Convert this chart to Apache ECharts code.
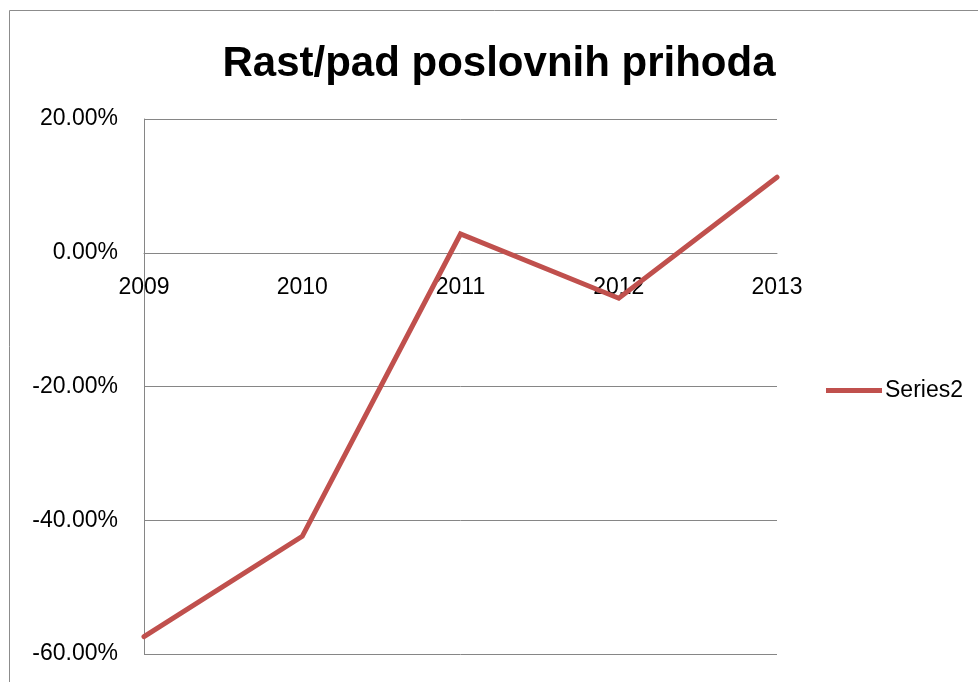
<!DOCTYPE html>
<html>
<head>
<meta charset="utf-8">
<script src="https://cdn.jsdelivr.net/npm/echarts@6/dist/echarts.min.js"></script>
<style>
html,body{margin:0;padding:0;background:#fff;}
#chart{width:978px;height:682px;}
</style>
</head>
<body>
<div id="chart"></div>
<script>
var titleText = 'Rast/pad poslovnih prihoda';
var categories = ['2009', '2010', '2011', '2012', '2013'];
var seriesName = 'Series2';
var seriesValues = [-57.4, -42.4, 2.8, -6.8, 11.3];
var yTicks = [-60, -40, -20, 0, 20];

var GRID_TOP = 119, GRID_BOTTOM = 28, H = 682;
var plotH = H - GRID_TOP - GRID_BOTTOM;
var yMin = yTicks[0], yMax = yTicks[yTicks.length - 1];
// move category axis up to the zero line
var zeroOffset = -plotH * (0 - yMin) / (yMax - yMin);

var chart = echarts.init(document.getElementById('chart'), null, {renderer: 'canvas'});
var FONT = '"Liberation Sans", Arial, sans-serif';
chart.setOption({
  animation: false,
  backgroundColor: '#ffffff',
  graphic: [{
    type: 'rect',
    shape: {x: 9.5, y: 10.5, width: 1000, height: 700},
    style: {fill: 'none', stroke: '#8c8c8c', lineWidth: 1},
    silent: true
  }],
  title: {
    text: titleText,
    left: 494,
    textAlign: 'center',
    top: 38,
    textStyle: {fontFamily: FONT, fontSize: 42, fontWeight: 'bold', color: '#000'}
  },
  legend: {
    data: [seriesName],
    left: 821,
    top: 374,
    itemWidth: 56,
    itemHeight: 5,
    itemGap: 0,
    icon: 'rect',
    textStyle: {fontFamily: FONT, fontSize: 23, color: '#000', padding: [0, 0, 0, -2]}
  },
  grid: {left: 144, right: 201, top: GRID_TOP, bottom: GRID_BOTTOM, containLabel: false, outerBoundsMode: 'none'},
  xAxis: {
    type: 'category',
    data: categories,
    boundaryGap: false,
    position: 'bottom',
    offset: zeroOffset,
    axisLine: {onZero: false, lineStyle: {color: '#868686', width: 1}},
    axisTick: {show: false},
    axisLabel: {fontFamily: FONT, fontSize: 23, color: '#000', margin: 23},
    splitLine: {show: false}
  },
  yAxis: {
    type: 'value',
    min: yMin,
    max: yMax,
    interval: 20,
    axisLine: {show: true, onZero: false, lineStyle: {color: '#868686', width: 1}},
    axisTick: {show: false},
    axisLabel: {
      fontFamily: FONT, fontSize: 23, color: '#000', margin: 26, padding: [6, 0, 0, 0],
      formatter: function (v) { return v.toFixed(2) + '%'; }
    },
    splitLine: {show: true, lineStyle: {color: '#868686', width: 1}}
  },
  series: [{
    name: seriesName,
    type: 'line',
    data: seriesValues,
    symbol: 'none',
    lineStyle: {color: '#c0504d', width: 5, cap: 'round', join: 'miter'},
    itemStyle: {color: '#c0504d'}
  }]
});
</script>
</body>
</html>
